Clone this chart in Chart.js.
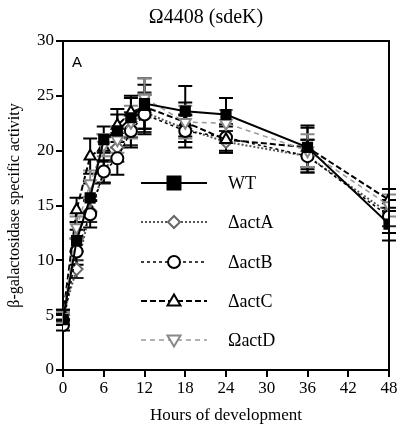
<!DOCTYPE html>
<html>
<head>
<meta charset="utf-8">
<script src="https://cdn.jsdelivr.net/npm/chart.js@4"></script>
<style>
  html, body { margin: 0; padding: 0; background: #fff; }
  #wrap { width: 400px; height: 430px; }
</style>
</head>
<body>
<div id="wrap"><canvas id="chart" width="400" height="430"></canvas></div>
<script>
// data
const hours = [0, 2, 4, 6, 8, 10, 12, 18, 24, 36, 48];
const xTicks = [0, 6, 12, 18, 24, 30, 36, 42, 48];
const yTicks = [0, 5, 10, 15, 20, 25, 30];

const wt   = [4.6, 11.8, 15.7, 21.0, 21.8, 23.0, 24.3, 23.6, 23.3, 20.3, 13.3];
const actA = [5.0, 9.2, 14.5, 18.0, 20.3, 22.0, 23.5, 22.0, 20.8, 19.5, 14.3];
const actB = [4.1, 10.8, 14.2, 18.1, 19.3, 21.8, 23.3, 21.8, 21.2, 19.5, 14.0];
const actC = [5.0, 14.6, 19.5, 20.3, 22.3, 23.5, 24.0, 22.6, 21.0, 20.3, 15.5];
const actD = [4.8, 13.0, 17.0, 20.5, 21.0, 22.6, 24.8, 22.6, 22.5, 20.0, 15.0];

// +/- error
const wtErr   = [0.5, 1.0, 1.3, 1.2, 1.5, 1.8, 2.3, 2.3, 1.5, 2.0, 1.5];
const actAErr = [0.5, 0.8, 1.0, 1.0, 1.3, 1.5, 1.8, 1.2, 1.0, 1.5, 1.2];
const actBErr = [0.5, 1.2, 1.2, 1.0, 1.5, 1.5, 1.8, 1.5, 1.2, 1.5, 1.5];
const actCErr = [0.5, 1.1, 1.6, 1.2, 1.5, 1.5, 2.0, 1.8, 1.2, 1.8, 1.0];
const actDErr = [0.5, 1.0, 1.2, 1.0, 1.2, 1.5, 1.8, 1.5, 1.2, 1.5, 1.0];

const SERIF = "'Liberation Serif', serif";
Chart.defaults.font.family = SERIF;

function pts(vals) {
  return hours.map((h, i) => ({ x: h, y: vals[i] }));
}

const series = [
  { label: 'WT', vals: wt, err: wtErr, color: '#000', dash: [], width: 2,
    style: 'rect', radius: 6.5, fill: '#000', pcolor: '#000', rot: 0, ecolor: '#000' },
  { label: '\u0394actA', vals: actA, err: actAErr, color: '#555', dash: [2, 2], width: 2,
    style: 'rectRot', radius: 6, fill: '#fff', pcolor: '#666', rot: 0, ecolor: '#222' },
  { label: '\u0394actB', vals: actB, err: actBErr, color: '#000', dash: [3, 3], width: 1.5,
    style: 'circle', radius: 6, fill: '#fff', pcolor: '#000', rot: 0, ecolor: '#000' },
  { label: '\u0394actC', vals: actC, err: actCErr, color: '#000', dash: [6, 3], width: 2,
    style: 'triangle', radius: 6.5, fill: '#fff', pcolor: '#000', rot: 0, ecolor: '#000' },
  { label: '\u03A9actD', vals: actD, err: actDErr, color: '#999', dash: [5, 4], width: 1.5,
    style: 'triangle', radius: 6.5, fill: '#fff', pcolor: '#888', rot: 180, ecolor: '#888' },
];

// error bars, drawn under the markers
const errorBars = {
  id: 'errorBars',
  beforeDatasetsDraw(chart) {
    const ctx = chart.ctx;
    const xs = chart.scales.x, ys = chart.scales.y;
    ctx.save();
    series.forEach((s) => {
      ctx.strokeStyle = s.ecolor;
      ctx.lineWidth = 2;
      ctx.setLineDash([]);
      hours.forEach((h, i) => {
        const px = xs.getPixelForValue(h);
        const top = ys.getPixelForValue(s.vals[i] + s.err[i]);
        const bot = ys.getPixelForValue(s.vals[i] - s.err[i]);
        ctx.beginPath();
        ctx.moveTo(px, top); ctx.lineTo(px, bot);
        ctx.moveTo(px - 7, top); ctx.lineTo(px + 7, top);
        ctx.moveTo(px - 7, bot); ctx.lineTo(px + 7, bot);
        ctx.stroke();
      });
    });
    ctx.restore();
  }
};

function drawMarker(ctx, s, x, y) {
  const r = s.radius;
  ctx.save();
  ctx.setLineDash([]);
  ctx.lineWidth = 2;
  ctx.strokeStyle = s.pcolor;
  ctx.fillStyle = s.fill;
  ctx.beginPath();
  if (s.style === 'rect') {
    ctx.rect(x - r, y - r, 2 * r, 2 * r);
  } else if (s.style === 'rectRot') {
    ctx.moveTo(x, y - r); ctx.lineTo(x + r, y); ctx.lineTo(x, y + r); ctx.lineTo(x - r, y); ctx.closePath();
  } else if (s.style === 'circle') {
    ctx.arc(x, y, r, 0, Math.PI * 2);
  } else {
    const d = s.rot ? -1 : 1;
    ctx.moveTo(x, y - d * r); ctx.lineTo(x + r, y + d * r * 0.7); ctx.lineTo(x - r, y + d * r * 0.7); ctx.closePath();
  }
  ctx.fill();
  ctx.stroke();
  ctx.restore();
}

// frame, title, panel letter, legend
const decor = {
  id: 'decor',
  afterDraw(chart) {
    const ctx = chart.ctx;
    const a = chart.chartArea;
    ctx.save();
    ctx.strokeStyle = '#000';
    ctx.lineWidth = 2;
    ctx.beginPath();
    ctx.moveTo(a.left, a.top); ctx.lineTo(a.right, a.top); ctx.lineTo(a.right, a.bottom);
    ctx.stroke();

    ctx.fillStyle = '#000';
    ctx.textAlign = 'center';
    ctx.textBaseline = 'middle';
    ctx.font = '20px ' + SERIF;
    ctx.fillText('\u03A94408 (sdeK)', 206, 18);

    ctx.textAlign = 'left';
    ctx.font = '15px "Liberation Sans", Arial, sans-serif';
    ctx.fillText('A', 72, 63);

    const rowY = [183, 222, 262, 301, 340];
    ctx.font = '18px ' + SERIF;
    series.forEach((s, i) => {
      const y = rowY[i];
      ctx.strokeStyle = s.color;
      ctx.lineWidth = s.width;
      ctx.setLineDash(s.dash);
      ctx.beginPath();
      ctx.moveTo(141, y); ctx.lineTo(207, y);
      ctx.stroke();
      drawMarker(ctx, s, 174, y);
      ctx.fillStyle = '#000';
      ctx.fillText(s.label, 228, y + 1);
    });
    ctx.restore();
  }
};

const datasets = series.map((s) => ({
  label: s.label,
  data: pts(s.vals),
  borderColor: s.color,
  borderWidth: s.width,
  borderDash: s.dash,
  pointStyle: s.style,
  pointRadius: s.radius,
  pointRotation: s.rot,
  pointBackgroundColor: s.fill,
  pointBorderColor: s.pcolor,
  pointBorderWidth: 2,
  tension: 0,
  fill: false,
}));
// WT on top
datasets.forEach((d, i) => { d.order = i === 0 ? 0 : 5 - i; });

new Chart(document.getElementById('chart'), {
  type: 'line',
  data: { datasets },
  plugins: [errorBars, decor],
  options: {
    responsive: false,
    animation: false,
    events: [],
    layout: { padding: { top: 41, right: 11, left: 0, bottom: 0 } },
    plugins: { legend: { display: false }, title: { display: false }, tooltip: { enabled: false } },
    scales: {
      x: {
        type: 'linear',
        min: 0, max: 48,
        afterFit(scale) { scale.height = 60; },
        afterBuildTicks(scale) { scale.ticks = xTicks.map((v) => ({ value: v })); },
        grid: { drawOnChartArea: false, tickLength: 7, color: '#000', lineWidth: 2 },
        border: { color: '#000', width: 2 },
        ticks: { color: '#000', font: { family: SERIF, size: 17 }, padding: 1, maxRotation: 0 },
        title: { display: true, text: 'Hours of development', color: '#000',
                 font: { family: SERIF, size: 17 }, padding: { top: 0 } },
      },
      y: {
        min: 0, max: 30,
        afterFit(scale) { scale.width = 63; },
        afterBuildTicks(scale) { scale.ticks = yTicks.map((v) => ({ value: v })); },
        grid: { drawOnChartArea: false, tickLength: 7, color: '#000', lineWidth: 2 },
        border: { color: '#000', width: 2 },
        ticks: { color: '#000', font: { family: SERIF, size: 17 }, padding: 2 },
        title: { display: true, text: '\u03B2-galactosidase specific activity', color: '#000',
                 font: { family: SERIF, size: 16 }, padding: { bottom: 0, top: 5 } },
      },
    },
  },
});
</script>
</body>
</html>
